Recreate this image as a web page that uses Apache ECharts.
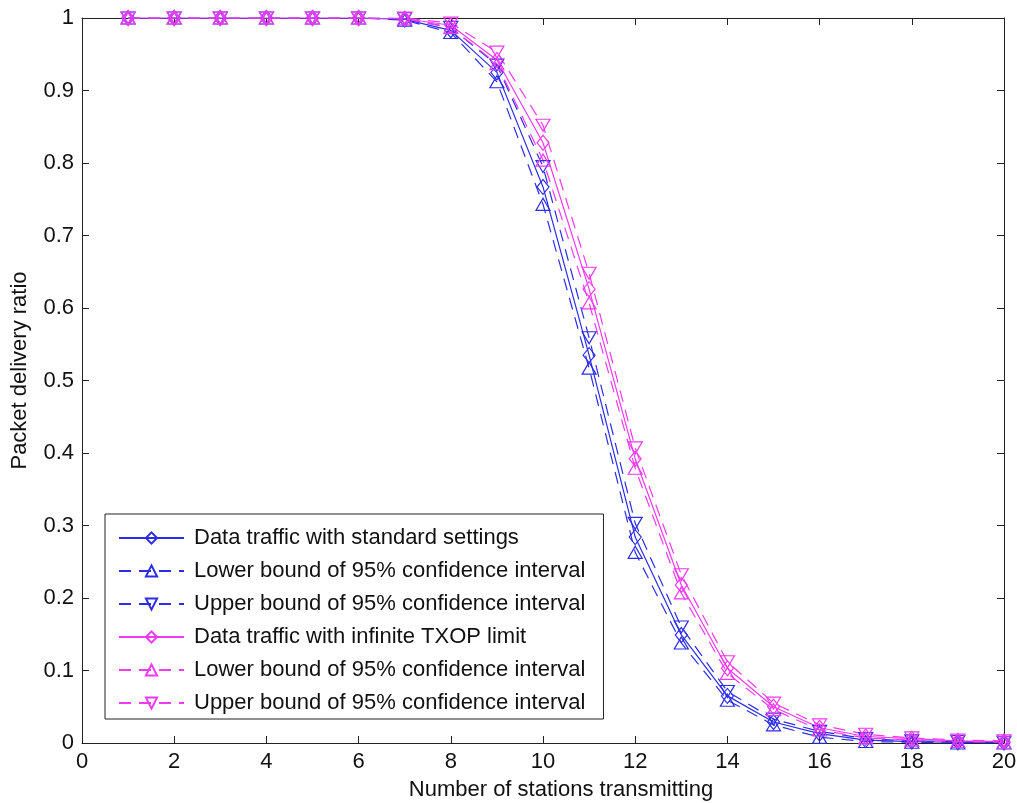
<!DOCTYPE html>
<html>
<head>
<meta charset="utf-8">
<script src="https://cdn.jsdelivr.net/npm/echarts@6/dist/echarts.min.js"></script>
<style>html,body{margin:0;padding:0;background:#fff}#c{width:1017px;height:803px}</style>
</head>
<body>
<div id="c"></div>
<script>
const stations = [1,2,3,4,5,6,7,8,9,10,11,12,13,14,15,16,17,18,19,20];
const stdMean  = [1,1,1,1,1,1,0.998,0.983,0.925,0.767,0.535,0.284,0.149,0.065,0.029,0.013,0.004,0.002,0.001,0.0005];
const stdLower = [1,1,1,1,1,1,0.997,0.980,0.912,0.743,0.517,0.263,0.138,0.059,0.025,0.008,0.002,0.001,0.0,0.0];
const stdUpper = [1,1,1,1,1,1,0.999,0.987,0.935,0.795,0.559,0.303,0.160,0.071,0.033,0.016,0.006,0.003,0.002,0.001];
const txMean   = [1,1,1,1,1,1,0.999,0.990,0.942,0.828,0.626,0.392,0.218,0.103,0.050,0.021,0.009,0.006,0.003,0.002];
const txLower  = [1,1,1,1,1,1,0.999,0.987,0.937,0.804,0.607,0.379,0.207,0.096,0.046,0.018,0.007,0.004,0.002,0.001];
const txUpper  = [1,1,1,1,1,1,1.0,0.993,0.953,0.852,0.648,0.407,0.232,0.112,0.055,0.025,0.012,0.007,0.004,0.003];
const names = ['Data traffic with standard settings','Lower bound of 95% confidence interval','Upper bound of 95% confidence interval','Data traffic with infinite TXOP limit','Lower bound of 95% confidence interval ','Upper bound of 95% confidence interval '];

const BLUE = '#2d2de8';
const MAG = '#f23af2';
const FONT = 'Liberation Sans, Arial, sans-serif';

function mk(name, data, color, kind) {
  const dashed = kind !== 'mean';
  return {
    name: name,
    type: 'line',
    data: stations.map((x, i) => [x, data[i]]),
    symbol: kind === 'mean' ? 'diamond' : 'triangle',
    symbolRotate: kind === 'upper' ? 180 : 0,
    symbolSize: kind === 'mean' ? [12, 15] : [14, 12],
    showAllSymbol: true,
    lineStyle: { color: color, width: 1.2, type: dashed ? [12, 8] : 'solid' },
    itemStyle: { color: 'rgba(255,255,255,0)', borderColor: color, borderWidth: 1.2 },
    emphasis: { disabled: true },
    animation: false,
    z: 2
  };
}

const chart = echarts.init(document.getElementById('c'));
const axisLine = { show: true, onZero: false, lineStyle: { color: '#222', width: 1 } };
const tickStyle = { show: true, inside: true, length: 7, lineStyle: { color: '#222', width: 1 } };
chart.setOption({
  animation: false,
  backgroundColor: '#fff',
  grid: { left: 82, right: 13, top: 18, bottom: 60, show: false, containLabel: false, outerBoundsMode: 'none' },
  xAxis: [{
    type: 'value', min: 0, max: 20, interval: 2,
    name: 'Number of stations transmitting', nameLocation: 'middle', nameGap: 36,
    nameTextStyle: { fontSize: 22, color: '#111', fontFamily: FONT, padding: [0, 0, 0, 36] },
    axisLine: axisLine, axisTick: tickStyle, splitLine: { show: false },
    axisLabel: { fontSize: 22, color: '#111', fontFamily: FONT, margin: 8 }
  }, {
    type: 'value', min: 0, max: 20, interval: 2, position: 'top',
    axisLine: axisLine, axisTick: tickStyle, splitLine: { show: false }, axisLabel: { show: false }
  }],
  yAxis: [{
    type: 'value', min: 0, max: 1, interval: 0.1,
    name: 'Packet delivery ratio', nameLocation: 'middle', nameGap: 51,
    nameTextStyle: { fontSize: 22, color: '#111', fontFamily: FONT, padding: [0, 0, 0, 20] },
    axisLine: axisLine, axisTick: tickStyle, splitLine: { show: false },
    axisLabel: { fontSize: 22, color: '#111', fontFamily: FONT, margin: 8 }
  }, {
    type: 'value', min: 0, max: 1, interval: 0.1, position: 'right',
    axisLine: axisLine, axisTick: tickStyle, splitLine: { show: false }, axisLabel: { show: false }
  }],
  legend: {
    orient: 'vertical', left: 105, top: 514,
    data: names,
    itemWidth: 65, itemHeight: 14, itemGap: 11,
    padding: [13, 12, 5, 13],
    borderColor: '#222', borderWidth: 1, backgroundColor: '#fff',
    textStyle: { fontSize: 22, color: '#111', fontFamily: FONT, padding: [0, 0, 0, 5] },
    selectedMode: false
  },
  series: [
    mk(names[0], stdMean, BLUE, 'mean'),
    mk(names[1], stdLower, BLUE, 'lower'),
    mk(names[2], stdUpper, BLUE, 'upper'),
    mk(names[3], txMean, MAG, 'mean'),
    mk(names[4], txLower, MAG, 'lower'),
    mk(names[5], txUpper, MAG, 'upper')
  ]
});
</script>
</body>
</html>
